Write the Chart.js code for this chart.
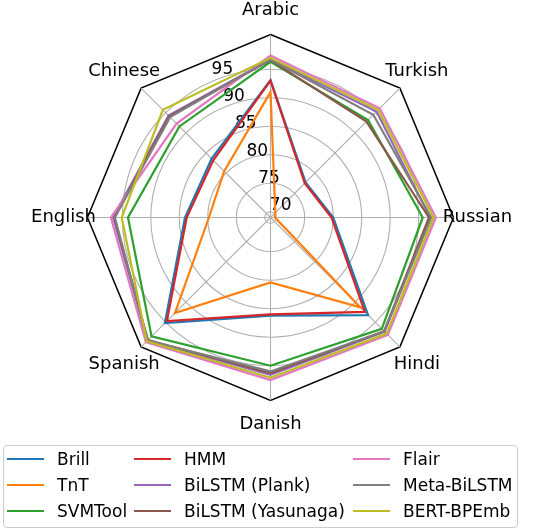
<!DOCTYPE html>
<html>
<head>
<meta charset="utf-8">
<script src="https://cdn.jsdelivr.net/npm/chart.js@4.4.1/dist/chart.umd.min.js"></script>
<style>
    body { margin: 0; background: #ffffff; }
    #wrap { position: relative; width: 542px; height: 530px; font-family: "DejaVu Sans", sans-serif; color: #000; }
    #chart { position: absolute; left: 0; top: 0; }
    .legend-box { position: absolute; left: 3px; top: 445px; width: 515px; height: 83px; box-sizing: border-box; border: 1px solid #cccccc; border-radius: 4px; background: rgba(255, 255, 255, 0.8); }
    .legend-line { position: absolute; width: 37px; height: 2px; }
    .legend-text { position: absolute; font-size: 17px; line-height: 20px; white-space: nowrap; }
</style>
</head>
<body>
<div id="wrap">
    <canvas id="chart" width="542" height="530"></canvas>
    <div class="legend-box"></div>
    <div id="legend"></div>
</div>
<script>
const languages = ["Arabic", "Turkish", "Russian", "Hindi", "Danish", "Spanish", "English", "Chinese"];
const tickValues = [70, 75, 80, 85, 90, 95];

const brill = [93.1, 77.7, 80.0, 93.2, 86.2, 95.2, 84.0, 83.6];
const tnt = [91.0, 70.2, 69.8, 91.3, 80.4, 92.7, 79.8, 80.5];
const svmtool = [96.3, 93.2, 95.7, 96.6, 95.0, 98.5, 94.0, 91.6];
const hmm = [93.0, 77.5, 79.7, 92.4, 86.0, 94.7, 83.7, 83.2];
const bilstmPlank = [96.7, 95.3, 97.0, 97.3, 96.6, 99.5, 96.6, 94.3];
const bilstmYasunaga = [96.6, 92.8, 96.8, 97.2, 96.3, 99.4, 96.4, 94.1];
const flair = [97.4, 96.1, 98.0, 98.1, 97.5, 99.9, 97.0, 92.3];
const metaBilstm = [96.7, 94.5, 97.2, 97.2, 96.0, 99.5, 96.3, 93.9];
const bertBpemb = [97.0, 95.7, 97.6, 97.8, 97.1, 99.7, 95.1, 95.7];

const seriesNames = ["Brill", "TnT", "SVMTool", "HMM", "BiLSTM (Plank)", "BiLSTM (Yasunaga)", "Flair", "Meta-BiLSTM", "BERT-BPEmb"];
const seriesData = [brill, tnt, svmtool, hmm, bilstmPlank, bilstmYasunaga, flair, metaBilstm, bertBpemb];
const seriesColors = ["#1f77b4", "#ff7f0e", "#2ca02c", "#d62728", "#9467bd", "#8c564b", "#e377c2", "#7f7f7f", "#bcbd22"];

const rMin = 69.0;
const rMax = 101.1;

function isFrame(ctx) {
    return !!ctx.tick && ctx.tick.value >= rMax;
}

// tick numbers and language names, drawn under the lines like matplotlib does
const radarText = {
    id: "radarText",
    beforeDatasetsDraw(chart) {
        const scale = chart.scales.r;
        const ctx = chart.ctx;
        ctx.save();
        ctx.fillStyle = "#000000";
        ctx.textAlign = "center";
        ctx.textBaseline = "middle";
        ctx.font = "17px 'DejaVu Sans'";
        const a = 23.2 * Math.PI / 180;
        tickValues.forEach(v => {
            const r = scale.getDistanceFromCenterForValue(v) * 1.038;
            ctx.fillText(String(v), scale.xCenter - r * Math.sin(a) + 12.5, scale.yCenter - r * Math.cos(a) - 6.5);
        });
        ctx.font = "18px 'DejaVu Sans'";
        languages.forEach((name, i) => {
            const p = scale.getPointPosition(i, scale.drawingArea + 24);
            ctx.fillText(name, p.x, p.y);
        });
        ctx.restore();
    }
};

new Chart(document.getElementById("chart"), {
    type: "radar",
    data: {
        labels: languages,
        datasets: seriesNames.map((name, i) => ({
            label: name,
            data: seriesData[i],
            borderColor: seriesColors[i],
            backgroundColor: seriesColors[i],
            fill: false,
            order: seriesNames.length - i,
        })),
    },
    options: {
        responsive: false,
        animation: false,
        devicePixelRatio: 1,
        layout: { padding: 0 },
        plugins: {
            legend: { display: false },
            tooltip: { enabled: false },
        },
        elements: {
            point: { radius: 0 },
            line: { borderWidth: 2.2, tension: 0 },
        },
        scales: {
            r: {
                min: rMin,
                max: rMax,
                afterBuildTicks: scale => {
                    scale.ticks = [rMin, ...tickValues, rMax].map(v => ({ value: v }));
                },
                afterFit: scale => {
                    scale.xCenter = 270.5;
                    scale.yCenter = 217.5;
                    scale.drawingArea = 183;
                },
                ticks: { display: false },
                pointLabels: { display: false },
                angleLines: { color: "#b0b0b0", lineWidth: 1.1 },
                grid: {
                    circular: ctx => !isFrame(ctx),
                    color: ctx => isFrame(ctx) ? "#000000" : "#b0b0b0",
                    lineWidth: ctx => isFrame(ctx) ? 1.5 : 1.1,
                },
            },
        },
    },
    plugins: [radarText],
});

// legend laid out column by column, as in the reference
const legend = document.getElementById("legend");
const lineLeft = [7, 134, 353];
const textLeft = [57, 184, 403];
const rowCenter = [459, 485, 511];
seriesNames.forEach((name, i) => {
    const col = Math.floor(i / 3);
    const row = i % 3;
    const line = document.createElement("div");
    line.className = "legend-line";
    line.style.left = lineLeft[col] + "px";
    line.style.top = (rowCenter[row] - 1) + "px";
    line.style.background = seriesColors[i];
    legend.appendChild(line);
    const text = document.createElement("div");
    text.className = "legend-text";
    text.style.left = textLeft[col] + "px";
    text.style.top = (rowCenter[row] - 10) + "px";
    text.textContent = name;
    legend.appendChild(text);
});
</script>
</body>
</html>
